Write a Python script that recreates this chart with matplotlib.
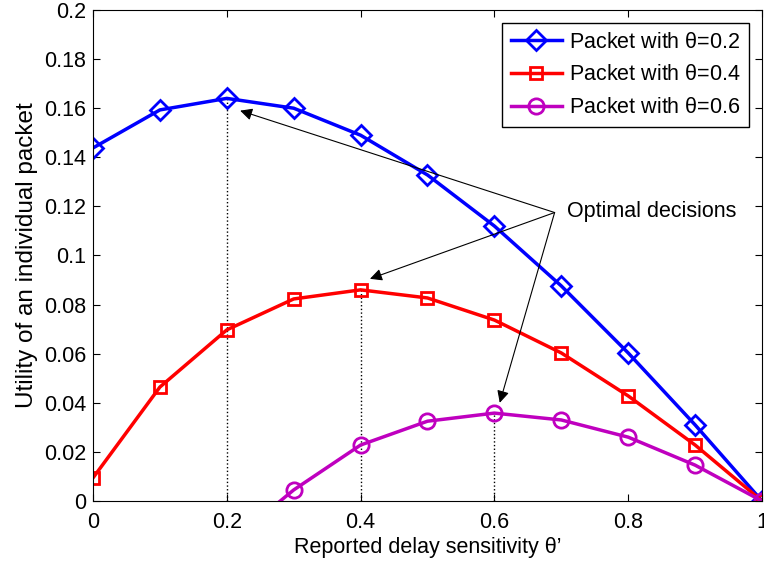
import numpy as np
import matplotlib.pyplot as plt
from matplotlib.ticker import FuncFormatter

plt.rcParams['font.family'] = ['Liberation Sans', 'DejaVu Sans']

theta = [0, 0.1, 0.2, 0.3, 0.4, 0.5, 0.6, 0.7, 0.8, 0.9, 1.0]
u_02 = [0.1438, 0.1593, 0.1640, 0.1600, 0.1490, 0.1328, 0.1120, 0.0876, 0.0603, 0.0310, 0.0]
u_04 = [0.0094, 0.0464, 0.0697, 0.0823, 0.0860, 0.0827, 0.0737, 0.0603, 0.0428, 0.0228, 0.0]
theta_06 = [0.2, 0.3, 0.4, 0.5, 0.6, 0.7, 0.8, 0.9, 1.0]
u_06 = [-0.018, 0.0045, 0.0228, 0.0325, 0.0358, 0.0330, 0.0260, 0.0146, 0.0]

# optimal reports (peak of each curve)
opt_x = [0.2, 0.4, 0.6]
opt_y = [0.1640, 0.0860, 0.0358]
arrow_tips = [(0.22, 0.159), (0.414, 0.0905), (0.608, 0.040)]
arrow_from = (0.69, 0.1175)

fs = 15.5

fig = plt.figure(figsize=(7.64, 5.65), dpi=100)
ax = fig.add_axes([0.1217, 0.1133, 0.8757, 0.869])

for xo, yo in zip(opt_x, opt_y):
    ax.plot([xo, xo], [0, yo], 'k:', lw=1.0)

ax.plot(theta, u_02, '-D', color='b', lw=2.5, ms=10, mfc='none', mew=2.0,
        label=r'Packet with $\mathregular{\theta}$=0.2')
ax.plot(theta, u_04, '-s', color='r', lw=2.5, ms=9, mfc='none', mew=2.0,
        label=r'Packet with $\mathregular{\theta}$=0.4')
ax.plot(theta_06, u_06, '-o', color='m', lw=2.5, ms=11, mfc='none', mew=2.0,
        label=r'Packet with $\mathregular{\theta}$=0.6')

for tip in arrow_tips:
    ax.annotate('', xy=tip, xytext=arrow_from,
                arrowprops=dict(arrowstyle='-|>', color='k', lw=0.8,
                                mutation_scale=18, shrinkA=0, shrinkB=0))
ax.text(arrow_from[0] + 0.018, arrow_from[1] + 0.0005, 'Optimal decisions',
        fontsize=fs, va='center', ha='left')

ax.set_xlim(0, 1)
ax.set_ylim(0, 0.2)
ax.set_xticks(np.arange(0, 1.01, 0.2))
ax.set_yticks(np.arange(0, 0.201, 0.02))
fmt = FuncFormatter(lambda v, p: '%g' % round(v, 3))
ax.xaxis.set_major_formatter(fmt)
ax.yaxis.set_major_formatter(fmt)
ax.tick_params(direction='in', top=True, right=True, labelsize=fs, length=5)
ax.tick_params(axis='x', pad=8)
ax.tick_params(axis='y', pad=5)

ax.set_xlabel("Reported delay sensitivity \u03b8\u2019", fontsize=fs, labelpad=3)
ax.set_ylabel('Utility of an individual packet', fontsize=17.5, labelpad=4)

leg = ax.legend(loc='upper right', fontsize=fs, fancybox=False, framealpha=1,
                edgecolor='k', handlelength=2.4, borderaxespad=0.6,
                labelspacing=0.55, handletextpad=0.3, borderpad=0.4)
leg.get_frame().set_linewidth(1.0)

fig.savefig('out.png', dpi=100)
